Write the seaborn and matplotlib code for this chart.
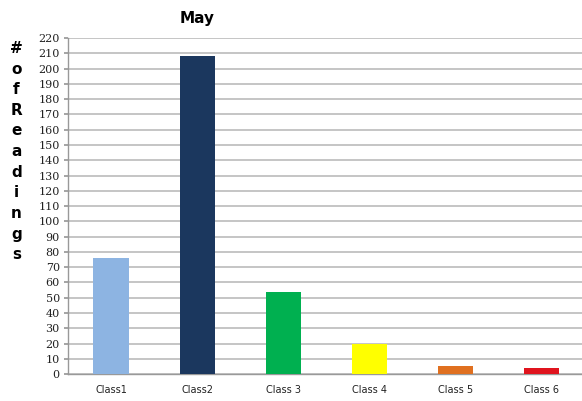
import matplotlib
matplotlib.use("Agg")
import matplotlib.pyplot as plt
import seaborn as sns
import pandas as pd
import numpy as np

categories = ["Class1", "Class2", "Class 3", "Class 4", "Class 5", "Class 6"]
readings = [76, 208, 54, 20, 5, 4]
bar_colors = ["#8DB4E2", "#1B375E", "#00B050", "#FFFF00", "#E07020", "#E0141E"]
y_ticks = list(range(0, 221, 10))

df = pd.DataFrame({"cls": categories, "n": readings})

sns.set_theme(style="white")
plt.rcParams["font.family"] = ["DejaVu Sans"]

fig = plt.figure(figsize=(5.82, 4.01), dpi=100)
ax = fig.add_axes([0.117, 0.067, 0.887, 0.838])

sns.barplot(data=df, x="cls", y="n", hue="cls", palette=bar_colors,
            order=categories, hue_order=categories, width=0.41,
            legend=False, ax=ax, saturation=1, linewidth=0, zorder=3)

ax.set_xlim(-0.5, len(categories) - 0.5)
ax.set_ylim(0, 220)
ax.set_yticks(y_ticks)
ax.set_yticklabels([str(v) for v in y_ticks], fontsize=8, family="DejaVu Serif",
                   color="#222222")
ax.yaxis.grid(True, color="#C0C0C0", linewidth=1.3, zorder=0)
ax.set_axisbelow(True)

ax.tick_params(axis="x", which="major", length=0, labelsize=7, pad=8, colors="#222222")
ax.set_xticks(np.arange(0.5, len(categories) - 0.5, 1), minor=True)
ax.tick_params(axis="x", which="minor", length=3, color="#999999", direction="out")
ax.tick_params(axis="y", length=3, color="#999999", direction="out", left=True, pad=3)

for side in ["top", "right"]:
    ax.spines[side].set_visible(False)
for side in ["left", "bottom"]:
    ax.spines[side].set_color("#999999")
    ax.spines[side].set_linewidth(1.0)

ax.set_xlabel("")
ax.set_ylabel("")

fig.text(0.339, 0.955, "May", ha="center", va="center", fontsize=11,
         fontweight="heavy", color="black")
fig.text(0.028, 0.622, "\n".join("#ofReadings"), ha="center", va="center",
         fontsize=11, fontweight="heavy", color="black", linespacing=1.47)

fig.savefig("out.png", dpi=100)
